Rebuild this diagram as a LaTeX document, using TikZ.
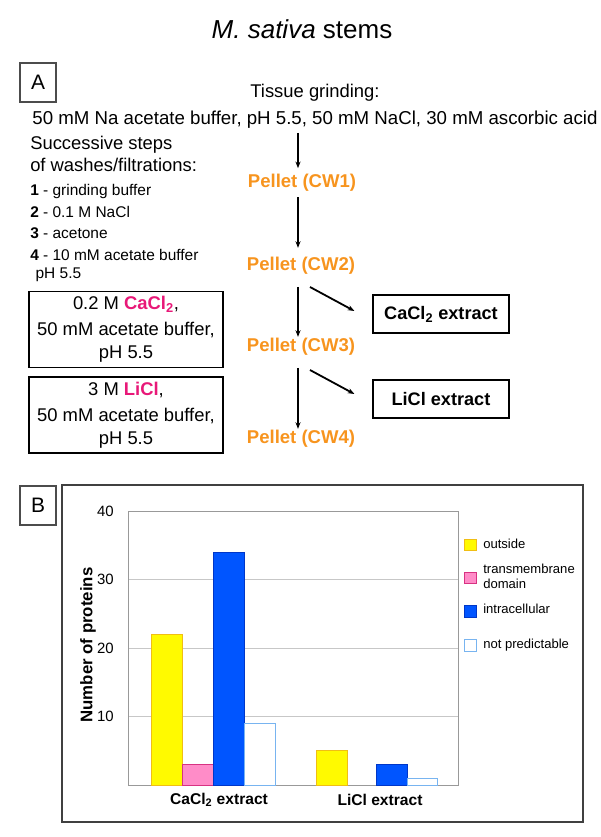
\documentclass[tikz,border=0pt]{standalone}
\usepackage{fontspec}
\setmainfont{Liberation Sans}
\usetikzlibrary{arrows.meta,calc}

\newlength\px
\setlength\px{0.75pt}

\definecolor{pelletorange}{RGB}{247,148,30}
\definecolor{saltpink}{RGB}{232,24,120}
\definecolor{baryellow}{RGB}{255,250,0}
\definecolor{baryellowline}{RGB}{240,190,20}
\definecolor{barpink}{RGB}{255,140,200}
\definecolor{barpinkline}{RGB}{215,50,130}
\definecolor{barblue}{RGB}{0,85,255}
\definecolor{barblueline}{RGB}{0,55,200}
\definecolor{barlightline}{RGB}{120,180,240}

\tikzset{
  arr/.style={-{Stealth[length=5pt,width=3.8pt]}, line width=1.35pt},
  txt/.style={font=\fontsize{13.8}{16.5}\selectfont, inner sep=0pt},
  small/.style={font=\fontsize{11.6}{16.1}\selectfont, inner sep=0pt},
  pellet/.style={font=\fontsize{13.9}{16}\selectfont\bfseries, text=pelletorange,
    inner sep=0pt, text height=10pt, text depth=2.8pt},
  letterbox/.style={draw=black!70, line width=0.8pt, minimum width=36*\px,
    minimum height=39*\px, font=\fontsize{15.7}{18}\selectfont},
  saltbox/.style={draw, line width=0.8pt, minimum width=194*\px, align=center,
    font=\fontsize{13.8}{17.5}\selectfont},
  extractbox/.style={draw, line width=0.9pt, minimum width=136*\px, minimum height=38*\px,
    font=\fontsize{13.6}{16}\selectfont\bfseries},
  gridline/.style={black!22, line width=0.6pt},
  tick/.style={font=\fontsize{11.2}{13}\selectfont, inner sep=0pt, anchor=east},
  legend/.style={font=\fontsize{9.8}{11.5}\selectfont, inner sep=0pt, anchor=west, align=left},
  swatch/.style={line width=0.6pt}
}

\begin{document}
\begin{tikzpicture}[x=0.75pt,y=-0.75pt]
        \useasboundingbox (0,0) rectangle (600,837);

        % Title
        \node[font=\fontsize{19.5}{22}\selectfont, inner sep=0pt] (title) at (302,29) {\textit{M. sativa} stems};

        % Panel A
        \node[letterbox] (boxA) at (38,82.5) {A};
        \node[txt] (grind) at (315,93) {Tissue grinding:};
        \node[txt, font=\fontsize{14}{16.5}\selectfont] (buf) at (315,120) {50 mM Na acetate buffer, pH 5.5, 50 mM NaCl, 30 mM ascorbic acid};

        % Washes
        \node[txt, anchor=west, align=left] (steps) at (30,154) {Successive steps\\of washes/filtrations:};
        \node[small, anchor=north west, align=left] (list) at (30,184.5)
          {\textbf{1} - grinding buffer\\
           \textbf{2} - 0.1 M NaCl\\
           \textbf{3} - acetone\\
           \textbf{4} - 10 mM acetate buffer\\[-2.2pt]
           \hspace{4pt}pH 5.5};

        \node[saltbox, minimum height=75*\px] (cabox) at (126,329.5)
          {0.2 M {\color{saltpink}\bfseries CaCl\textsubscript{2}},\\[2pt]50 mM acetate buffer,\\pH 5.5};
        \node[saltbox, minimum height=76*\px] (libox) at (126,415)
          {3 M {\color{saltpink}\bfseries LiCl},\\[2pt]50 mM acetate buffer,\\pH 5.5};

        % Pellets
        \node[pellet] (cw1) at (302,183) {Pellet (CW1)};
        \node[pellet] (cw2) at (301,266) {Pellet (CW2)};
        \node[pellet] (cw3) at (301,347) {Pellet (CW3)};
        \node[pellet] (cw4) at (301,439) {Pellet (CW4)};

        \node[extractbox] (caext) at (441,314) {CaCl\textsubscript{2} extract};
        \node[extractbox] (liext) at (441,399) {LiCl extract};

        % Arrows
        \coordinate (ax) at (298,0);
        \draw[arr, shorten <=3pt, shorten >=4.5pt] (buf.south -| ax) -- (cw1.north -| ax);
        \draw[arr, shorten <=4pt, shorten >=7pt] (cw1.south -| ax) -- (cw2.north -| ax);
        \draw[arr, shorten <=9pt, shorten >=1pt] (cw2.south -| ax) -- (cw3.north -| ax);
        \draw[arr, shorten <=9pt, shorten >=1pt] (cw3.south -| ax) -- (cw4.north -| ax);
        \coordinate (s2) at (310,287);
        \coordinate (s3) at (310,370);
        \draw[arr] (s2) -- ($(caext.west)+(-18,-3)$);
        \draw[arr] (s3) -- ($(liext.west)+(-18,-5)$);

        % Panel B
        \node[letterbox] (boxB) at (38,505.5) {B};
        \draw[black!75, line width=1.1pt] (62,485) rectangle (583,822);

        % Grid
        \foreach \v in {10,20,30}
          \draw[gridline] (128,{785-6.85*\v}) -- (458,{785-6.85*\v});
        \draw[black!40, line width=0.7pt] (128,511) rectangle (458,785);

        % Ticks
        \foreach \v in {10,20,30,40}
          \node[tick] (t\v) at (114,{785-6.85*\v}) {\v};
        \node[font=\fontsize{12.6}{14}\selectfont\bfseries, rotate=90, inner sep=0pt] (ylab) at (88,645) {Number of proteins};

        % Bars
        \filldraw[swatch, fill=baryellow, draw=baryellowline] (151,785) rectangle (182,634.3);
        \filldraw[swatch, fill=barpink, draw=barpinkline] (182,785) rectangle (213,764.5);
        \filldraw[swatch, fill=barblue, draw=barblueline] (213,785) rectangle (244,552.1);
        \filldraw[swatch, fill=white, draw=barlightline] (244,785) rectangle (275,723.4);
        \filldraw[swatch, fill=baryellow, draw=baryellowline] (316,785) rectangle (347,750.8);
        \filldraw[swatch, fill=barblue, draw=barblueline] (376,785) rectangle (407,764.5);
        \filldraw[swatch, fill=white, draw=barlightline] (407,785) rectangle (437,778.2);

        \node[font=\fontsize{11.7}{14}\selectfont\bfseries, inner sep=0pt] (cat1) at (219,800) {CaCl\textsubscript{2} extract};
        \node[font=\fontsize{11.7}{14}\selectfont\bfseries, inner sep=0pt] (cat2) at (380,800) {LiCl extract};

        % Legend
        \filldraw[swatch, fill=baryellow, draw=baryellowline] (464,539) rectangle (476,550);
        \filldraw[swatch, fill=barpink, draw=barpinkline] (464,572) rectangle (476,583);
        \filldraw[swatch, fill=barblue, draw=barblueline] (464,605) rectangle (476,617);
        \filldraw[swatch, fill=white, draw=barlightline] (464,639) rectangle (476,651);
        \node[legend] (l1) at (483,544) {outside};
        \node[legend] (l2) at (483,576.5) {transmembrane\\domain};
        \node[legend] (l3) at (483,609) {intracellular};
        \node[legend] (l4) at (483,645) {not predictable};
    \end{tikzpicture}
\end{document}
